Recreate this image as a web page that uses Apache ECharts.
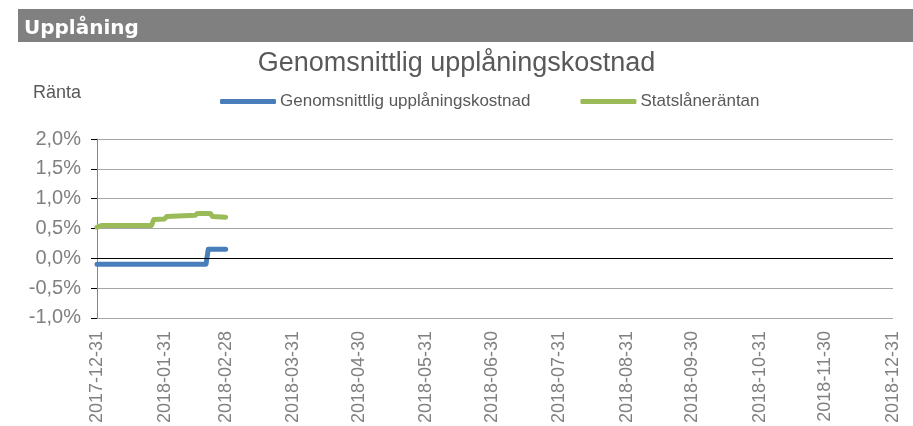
<!DOCTYPE html>
<html>
<head>
<meta charset="utf-8">
<script src="https://cdn.jsdelivr.net/npm/echarts@6/dist/echarts.min.js"></script>
<style>
  html, body { margin: 0; padding: 0; background: #fff; }
  #chart { width: 913px; height: 426px; }
</style>
</head>
<body>
<div id="chart"></div>
<script>
// data
const monthEnds = ['2017-12-31', '2018-01-31', '2018-02-28', '2018-03-31', '2018-04-30', '2018-05-31',
  '2018-06-30', '2018-07-31', '2018-08-31', '2018-09-30', '2018-10-31', '2018-11-30', '2018-12-31'];

const kostnadDates = ['2017-12-31', '2018-02-19', '2018-02-20', '2018-02-28'];
const kostnadValues = [-0.10, -0.10, 0.15, 0.15];

const statsDates = ['2017-12-31', '2018-01-02', '2018-01-25', '2018-01-26', '2018-01-31', '2018-02-01',
  '2018-02-14', '2018-02-15', '2018-02-21', '2018-02-22', '2018-02-28'];
const statsValues = [0.52, 0.55, 0.55, 0.65, 0.66, 0.70, 0.72, 0.75, 0.75, 0.70, 0.69];

const seriesNames = ['Genomsnittlig upplåningskostnad', 'Statslåneräntan'];

const ts = (s) => {
  const p = s.split('-').map(Number);
  return new Date(p[0], p[1] - 1, p[2]).getTime();
};
const pad = (n) => (n < 10 ? '0' : '') + n;
const fmtDate = (v) => {
  const d = new Date(v);
  return d.getFullYear() + '-' + pad(d.getMonth() + 1) + '-' + pad(d.getDate());
};
const zip = (dates, vals) => dates.map((d, i) => [ts(d), vals[i]]);

var myChart = echarts.init(document.getElementById('chart'), null, { renderer: 'canvas' });

var option = {
  animation: false,
  color: ['#4a7ebb', '#9bbb59'],
  textStyle: { fontFamily: '"Liberation Sans", Arial, sans-serif' },
  graphic: [
    { type: 'rect', left: 18, top: 9, shape: { width: 895, height: 33 }, style: { fill: '#808080' } },
    { type: 'text', left: 24, top: 19, style: { text: 'Upplåning', fill: '#fff', font: 'bold 20px "DejaVu Sans"' } },
    { type: 'text', left: 33, top: 84, style: { text: 'Ränta', fill: '#595959', font: '18px "Liberation Sans"' } }
  ],
  title: {
    text: 'Genomsnittlig upplåningskostnad',
    left: 'center',
    top: 45,
    textStyle: { fontSize: 27, fontWeight: 'normal', color: '#595959' }
  },
  legend: {
    left: 215,
    top: 88,
    itemWidth: 56,
    itemHeight: 5,
    itemGap: 50,
    icon: 'roundRect',
    textStyle: { fontSize: 17, color: '#595959', padding: [0, 0, 0, -1] },
    data: seriesNames
  },
  grid: { left: 97, right: 20, top: 139, bottom: 107 },
  xAxis: {
    type: 'value',
    min: ts(monthEnds[0]),
    max: ts(monthEnds[monthEnds.length - 1]),
    axisLine: { show: false },
    axisTick: { show: false },
    splitLine: { show: false },
    axisLabel: {
      customValues: monthEnds.map(ts),
      rotate: 90,
      margin: 13,
      fontSize: 18,
      color: '#808080',
      formatter: (v) => fmtDate(v)
    }
  },
  yAxis: {
    type: 'value',
    min: -1,
    max: 2,
    interval: 0.5,
    axisLine: { show: true, lineStyle: { color: '#868686' } },
    axisTick: { show: true, length: 6, lineStyle: { color: '#000' } },
    splitLine: { lineStyle: { color: '#a6a6a6' } },
    axisLabel: {
      fontSize: 20,
      color: '#808080',
      margin: 16,
      formatter: (v) => v.toFixed(1).replace('.', ',') + '%'
    }
  },
  series: [
    {
      name: seriesNames[0],
      type: 'line',
      data: zip(kostnadDates, kostnadValues),
      showSymbol: false,
      symbol: 'none',
      lineStyle: { width: 5, cap: 'round', join: 'round' },
      markLine: {
        silent: true,
        symbol: 'none',
        label: { show: false },
        lineStyle: { color: '#000', width: 1, type: 'solid' },
        data: [{ yAxis: 0 }]
      },
      z: 3
    },
    {
      name: seriesNames[1],
      type: 'line',
      data: zip(statsDates, statsValues),
      showSymbol: false,
      symbol: 'none',
      lineStyle: { width: 5, cap: 'round', join: 'round' },
      z: 3
    }
  ]
};

myChart.setOption(option);
window.addEventListener('resize', myChart.resize);
</script>
</body>
</html>
